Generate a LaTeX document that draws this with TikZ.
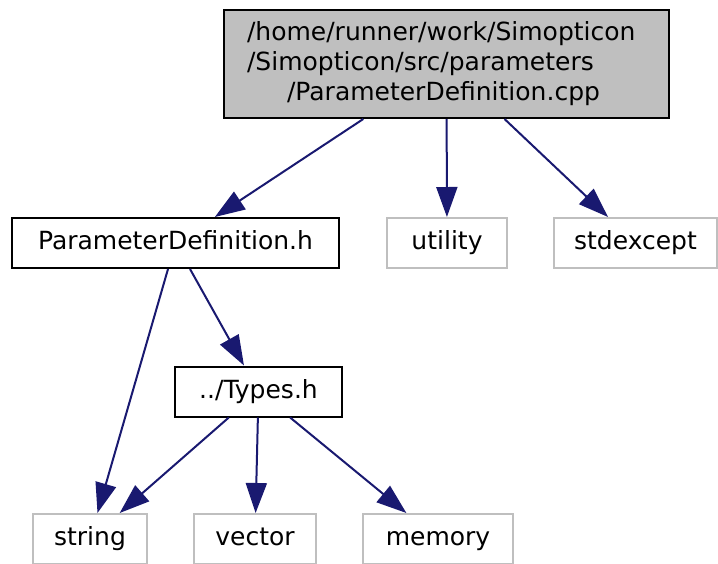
\documentclass[tikz,border=0pt]{standalone}
\usepackage{fontspec}
\setmainfont{DejaVu Sans}
\usetikzlibrary{arrows.meta}
\definecolor{edgeblue}{HTML}{191970}
\definecolor{graybox}{HTML}{BFBFBF}
\begin{document}
\begin{tikzpicture}[x=1pt,y=-1pt,
  base/.style={line width=2pt, minimum height=50pt, inner sep=0pt,
    font=\fontsize{25}{30}\selectfont, text height=18pt, text depth=5pt},
  inc/.style={base, draw=black},
  ext/.style={base, draw=graybox},
  dep/.style={draw=edgeblue, line width=2pt, -{Triangle[length=30pt,width=21pt]}}
]
\useasboundingbox (0,0) rectangle (718,563);
\node[draw=black, fill=graybox, line width=2pt, minimum width=445pt, minimum height=108pt,
  text width=399pt, inner xsep=23pt, inner ysep=0pt, align=left,
  font=\fontsize{25}{30}\selectfont] (top) at (446.5,64)
  {/home/runner/work/Simopticon\\/Simopticon/src/parameters\\\hspace*{40pt}/ParameterDefinition.cpp};
\node[inc, minimum width=327pt] (pdh) at (175.5,243) {ParameterDefinition.h};
\node[ext, minimum width=120pt] (utility) at (447,243) {utility};
\node[ext, minimum width=163pt] (stdexcept) at (635.5,243) {stdexcept};
\node[inc, minimum width=167pt] (types) at (258.5,391.5) {../Types.h};
\node[ext, minimum width=114pt] (string) at (90,539) {string};
\node[ext, minimum width=122pt] (vector) at (255,539) {vector};
\node[ext, minimum width=150pt] (memory) at (438,539) {memory};
\draw[dep] (top) -- (pdh);
\draw[dep] (top) -- (utility);
\draw[dep] (top) -- (stdexcept);
\draw[dep] (pdh) -- (string);
\draw[dep] (pdh) -- (types);
\draw[dep] (types) -- (string);
\draw[dep] (types) -- (vector);
\draw[dep] (types) -- (memory);
\end{tikzpicture}
\end{document}
